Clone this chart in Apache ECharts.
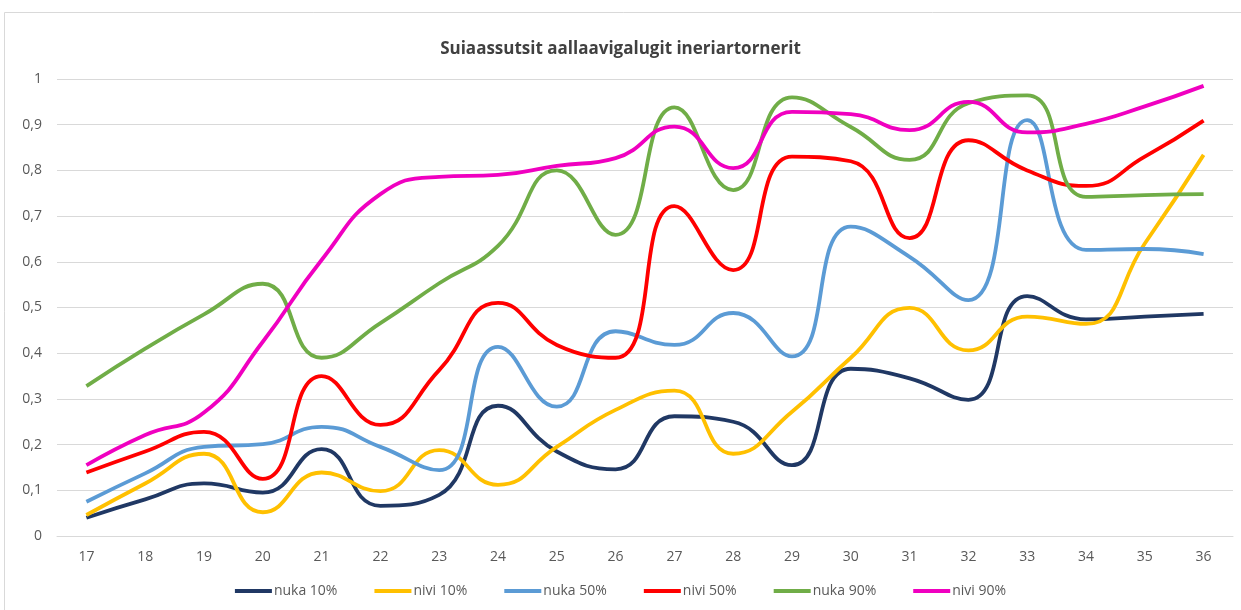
<!DOCTYPE html>
<html lang="kl">
<head>
    <meta http-equiv="Content-Type" content="text/html;charset=utf-8">
    <title>Suiaassutsit aallaavigalugit ineriartornerit</title>
    <script type="text/javascript" src="https://cdn.jsdelivr.net/npm/echarts@6/dist/echarts.min.js"></script>
    <style>
        html, body { margin: 0; padding: 0; background: #fff; }
        #main { width: 1241px; height: 610px; }
    </style>
</head>
<body>
<div id="main"></div>
<script>
    var categories = ['17', '18', '19', '20', '21', '22', '23', '24', '25', '26',
        '27', '28', '29', '30', '31', '32', '33', '34', '35', '36'];

    var nuka10 = [0.04, 0.08, 0.115, 0.095, 0.19, 0.066, 0.09, 0.285, 0.185, 0.146,
        0.262, 0.25, 0.155, 0.366, 0.345, 0.298, 0.525, 0.474, 0.48, 0.486];
    var nivi10 = [0.046, 0.115, 0.18, 0.052, 0.139, 0.098, 0.188, 0.112, 0.195, 0.276,
        0.318, 0.18, 0.272, 0.39, 0.499, 0.406, 0.48, 0.464, 0.64, 0.834];
    var nuka50 = [0.075, 0.137, 0.195, 0.201, 0.239, 0.195, 0.144, 0.414, 0.283, 0.448,
        0.418, 0.488, 0.393, 0.677, 0.611, 0.516, 0.91, 0.626, 0.628, 0.617];
    var nivi50 = [0.139, 0.185, 0.228, 0.125, 0.35, 0.243, 0.363, 0.51, 0.418, 0.39,
        0.722, 0.582, 0.83, 0.82, 0.652, 0.866, 0.8, 0.766, 0.83, 0.909];
    var nuka90 = [0.328, 0.41, 0.485, 0.552, 0.39, 0.466, 0.553, 0.635, 0.8, 0.659,
        0.938, 0.757, 0.96, 0.895, 0.823, 0.947, 0.964, 0.742, 0.746, 0.748];
    var nivi90 = [0.155, 0.221, 0.27, 0.425, 0.604, 0.748, 0.786, 0.79, 0.81, 0.827,
        0.896, 0.805, 0.928, 0.923, 0.888, 0.95, 0.883, 0.902, 0.94, 0.985];

    var names = ['nuka 10%', 'nivi 10%', 'nuka 50%', 'nivi 50%', 'nuka 90%', 'nivi 90%'];
    var colors = ['#203864', '#FFC000', '#5B9BD5', '#FF0000', '#70AD47', '#F000C0'];
    var values = [nuka10, nivi10, nuka50, nivi50, nuka90, nivi90];

    var font = 'Open Sans';

    var myChart = echarts.init(document.getElementById('main'));

    var option = {
        backgroundColor: '#fff',
        animation: false,
        color: colors,
        textStyle: { fontFamily: font },
        graphic: [{
            type: 'rect',
            shape: { x: 4.5, y: 12.5, width: 1245, height: 605 },
            style: { fill: 'none', stroke: '#D9D9D9', lineWidth: 1 },
            silent: true
        }],
        title: {
            text: 'Suiaassutsit aallaavigalugit ineriartornerit',
            left: 'center',
            top: 36,
            textStyle: {
                fontFamily: font,
                fontSize: 17,
                fontWeight: 'bold',
                color: '#404040'
            }
        },
        legend: {
            bottom: 7,
            left: 'center',
            icon: 'rect',
            itemWidth: 37,
            itemHeight: 4,
            itemGap: 37,
            textStyle: { fontFamily: font, fontSize: 14, color: '#595959', padding: [0, 0, 0, -3] },
            data: names
        },
        grid: {
            left: 57,
            right: 8,
            top: 79,
            bottom: 74
        },
        xAxis: {
            type: 'category',
            data: categories,
            boundaryGap: true,
            axisLine: { lineStyle: { color: '#D9D9D9' } },
            axisTick: { show: false },
            axisLabel: { color: '#595959', fontSize: 14, margin: 14, fontFamily: font }
        },
        yAxis: {
            type: 'value',
            min: 0,
            max: 1,
            interval: 0.1,
            axisLine: { show: false },
            axisTick: { show: false },
            splitLine: { lineStyle: { color: '#D9D9D9' } },
            axisLabel: {
                color: '#595959',
                fontSize: 14,
                margin: 15,
                fontFamily: font,
                formatter: function (v) {
                    return String(Math.round(v * 10) / 10).replace('.', ',');
                }
            }
        },
        series: names.map(function (n, i) {
            return {
                name: n,
                type: 'line',
                smooth: 0.5,
                symbol: 'none',
                lineStyle: { width: 3.8, color: colors[i] },
                data: values[i]
            };
        })
    };

    myChart.setOption(option);
</script>
</body>
</html>
